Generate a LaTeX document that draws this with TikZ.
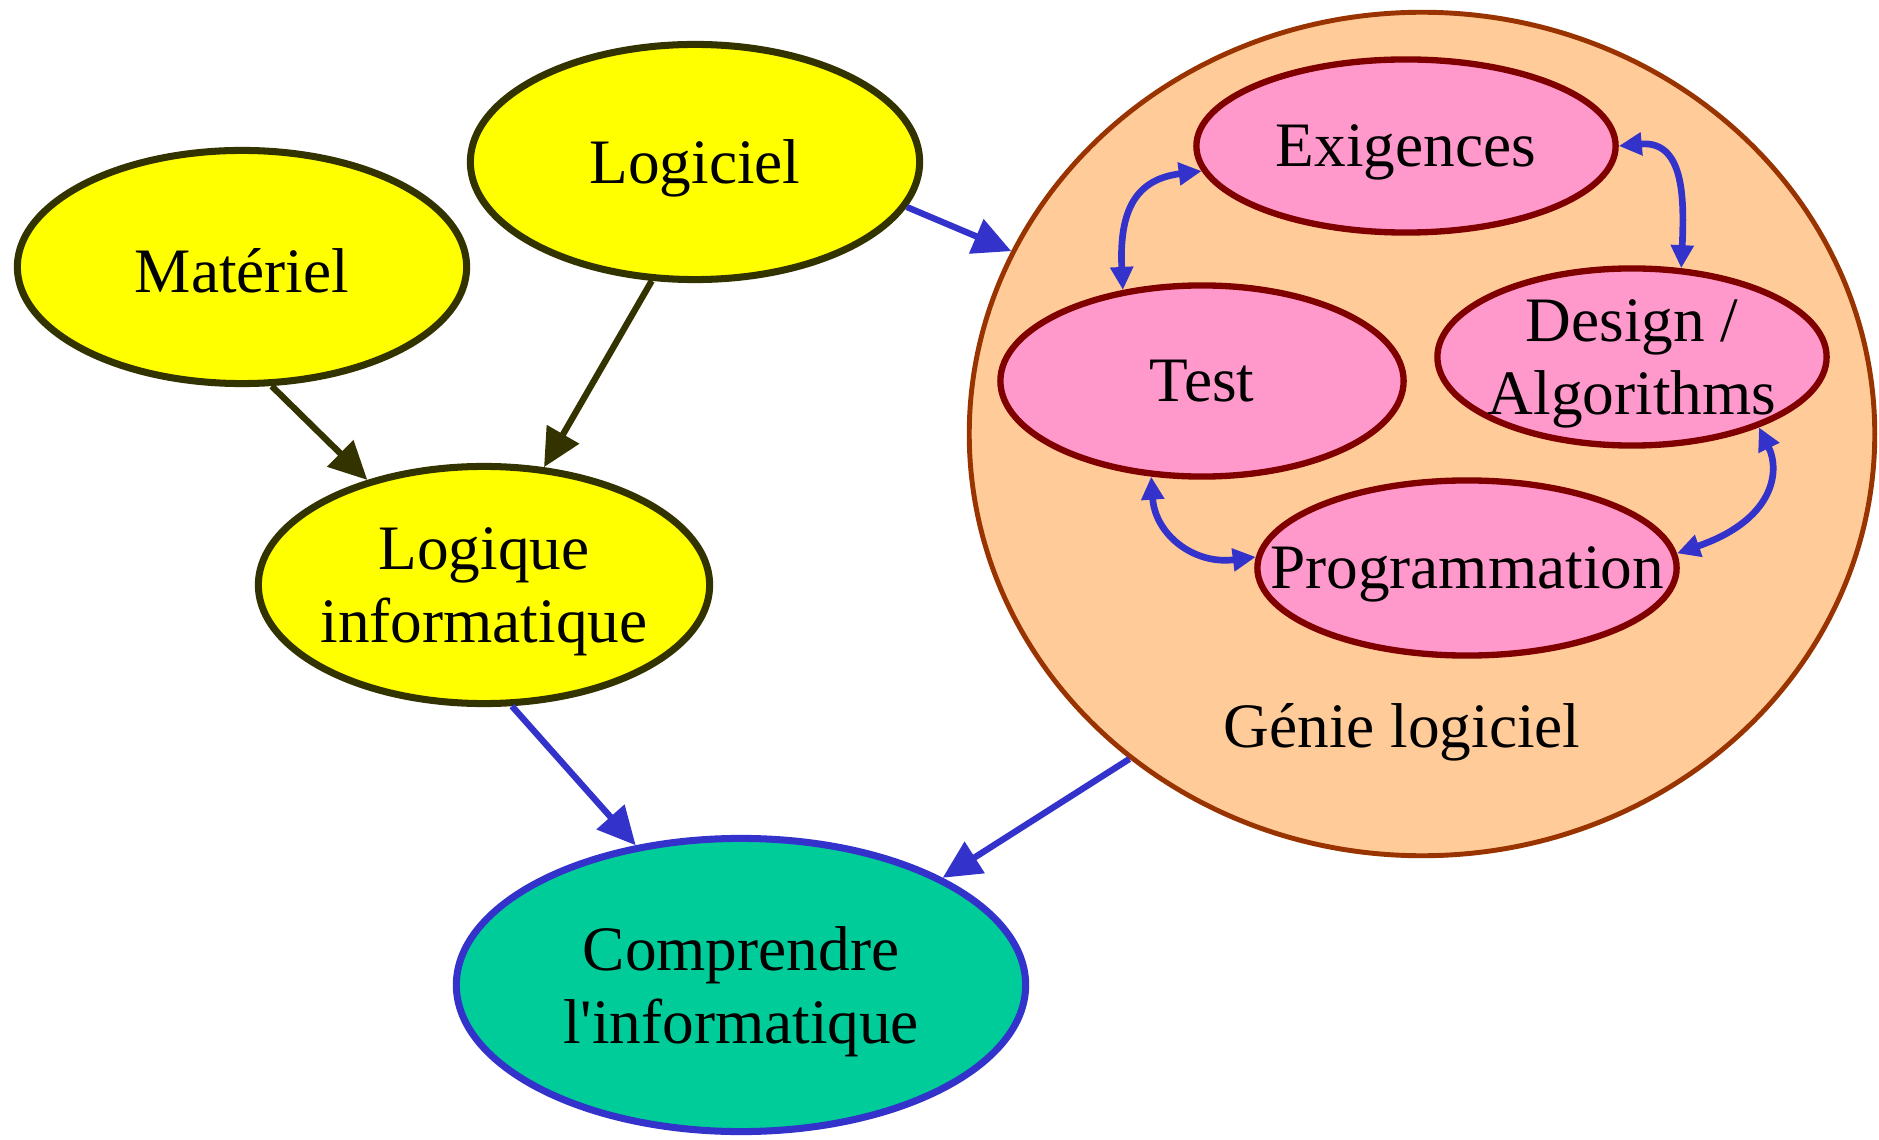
\documentclass[tikz,border=0pt]{standalone}
\usepackage{fontspec}
\setmainfont{Liberation Serif}
\usepackage{xcolor}
\usetikzlibrary{shapes.geometric, arrows.meta}

\definecolor{jaune}{HTML}{FFFF00}
\definecolor{olive}{HTML}{333300}
\definecolor{rose}{HTML}{FF99CC}
\definecolor{bordeaux}{HTML}{800000}
\definecolor{peche}{HTML}{FFCC99}
\definecolor{brique}{HTML}{993300}
\definecolor{vert}{HTML}{00CC99}
\definecolor{bleu}{HTML}{3333CC}

\begin{document}
\begin{tikzpicture}[x=0.01cm, y=-0.01cm,
    txt/.style={align=center, text depth=0pt, font=\fontsize{18}{21}\selectfont},
    bulle/.style={ellipse, draw, line width=2pt, inner sep=0pt},
    jaunebulle/.style={bulle, fill=jaune, draw=olive},
    rosebulle/.style={bulle, fill=rose, draw=bordeaux, line width=1.8pt},
    darkarrow/.style={-{Triangle[length=3.8mm, width=3.6mm]}, olive, line width=1.8pt},
    bluearrow/.style={-{Triangle[length=3.8mm, width=3.6mm]}, bleu, line width=1.8pt},
    innerarrow/.style={{Triangle[length=2.3mm, width=2.2mm]}-{Triangle[length=2.3mm, width=2.2mm]}, bleu, line width=1.9pt}]
    \useasboundingbox (0,0) rectangle (1879,1140);

    % 1. Le grand cercle : Génie logiciel
    \node[bulle, fill=peche, draw=brique, line width=1.4pt,
        minimum width=9.05cm, minimum height=8.43cm] (genie) at (1422,434) {};
    \node[txt] (genietitre) at (1402,725) {Génie logiciel};

    % 2. Les bulles jaunes
    \node[jaunebulle, minimum width=4.49cm, minimum height=2.33cm,
        label={[txt, yshift=-0.03cm]center:Matériel}] (materiel) at (242,267) {};
    \node[jaunebulle, minimum width=4.49cm, minimum height=2.35cm,
        label={[txt]center:Logiciel}] (logiciel) at (695,162) {};
    \node[jaunebulle, minimum width=4.51cm, minimum height=2.37cm,
        label={[txt]center:Logique\\informatique}] (logique) at (484,585) {};

    % 3. La bulle verte
    \node[bulle, fill=vert, draw=bleu, minimum width=5.69cm, minimum height=2.93cm,
        label={[txt]center:Comprendre\\l\textquotesingle informatique}] (comprendre) at (741,985) {};

    % 4. Les bulles roses dans le cercle
    \node[rosebulle, minimum width=4.19cm, minimum height=1.73cm,
        label={[txt]center:Exigences}] (exig) at (1406,146) {};
    \node[rosebulle, minimum width=4.03cm, minimum height=1.91cm,
        label={[txt]center:Test}] (test) at (1202,381) {};
    \node[rosebulle, minimum width=3.89cm, minimum height=1.77cm,
        label={[txt]center:Design /\\Algorithms}] (design) at (1632,357) {};
    \node[rosebulle, minimum width=4.19cm, minimum height=1.75cm,
        label={[txt]center:Programmation}] (prog) at (1467,568) {};

    % 5. Les flèches
    \draw[darkarrow] (materiel.-76) -- (logique.138);
    \draw[darkarrow] (logiciel.250) -- (logique.63);
    \draw[bluearrow] (logiciel.-12) -- (genie.156);
    \draw[bluearrow] (logique.-77) -- (comprendre.127);
    \draw[bluearrow] (genie.228) -- (comprendre.28);

    % 6. Le cycle à l'intérieur
    \draw[innerarrow] (exig.187) .. controls +(-65,8) and +(-4,-81) .. (test.131);
    \draw[innerarrow] (exig.east) .. controls +(66,-6) and +(3,-68) .. (design.61);
    \draw[innerarrow] (design.-29) .. controls +(22,45) and +(96,-33) .. (prog.4);
    \draw[innerarrow] (test.242) .. controls +(4,58) and +(-62,8) .. (prog.177);

\end{tikzpicture}
\end{document}
